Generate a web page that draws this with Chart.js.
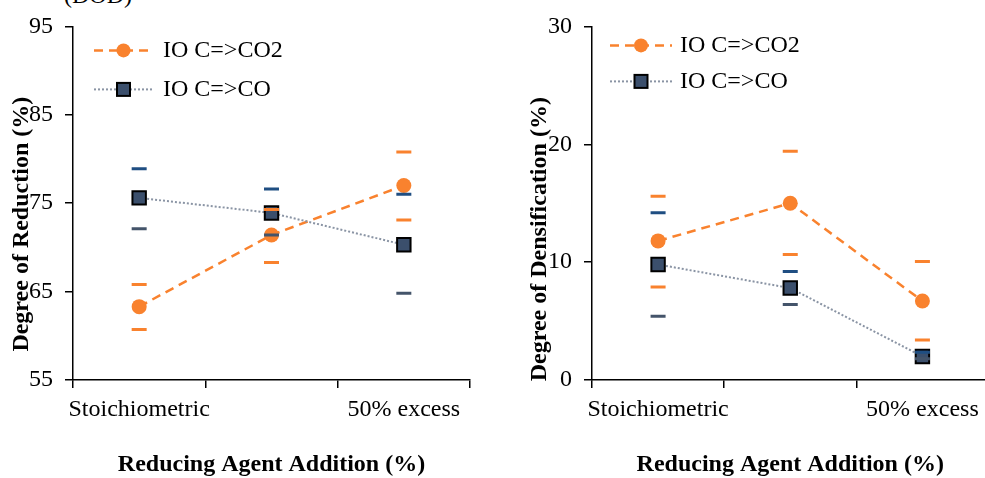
<!DOCTYPE html>
<html>
<head>
<meta charset="utf-8">
<script src="https://cdn.jsdelivr.net/npm/chart.js@4.4.0/dist/chart.umd.min.js"></script>
<style>
    html, body { margin: 0; padding: 0; background: #fff; overflow: hidden; }
    body { width: 985px; height: 478px; position: relative; }
    .panel { position: absolute; top: 0; height: 478px; }
    .panel canvas { display: block; }
    #dod { position: absolute; left: 64px; top: -17px; font: 24px "Liberation Serif", serif; line-height: 24px; color: #000; }
</style>
</head>
<body>
<div id="dod">(DOD)</div>
<div class="panel" style="left:0px; width:492px;"><canvas id="reductionChart" width="492" height="478" style="width:492px;height:478px;"></canvas></div>
<div class="panel" style="left:492px; width:508px;"><canvas id="densificationChart" width="508" height="478" style="width:508px;height:478px;"></canvas></div>

<script>
// Categories (middle label is not shown in the original figure)
const categories = ['Stoichiometric', '', '50% excess'];
const seriesNames = ['IO C=>CO2', 'IO C=>CO'];

// Degree of Reduction (%)
const reductionCO2 = [63.3, 71.4, 77.0];
const reductionCO2Hi = [65.8, 74.3, 80.8];
const reductionCO2Lo = [60.7, 68.3, 73.1];
const reductionCO = [75.6, 73.9, 70.3];
const reductionCOHi = [78.9, 76.6, 76.0];
const reductionCOLo = [72.1, 71.4, 64.8];
const reductionTicks = [55, 65, 75, 85, 95];

// Degree of Densification (%)
const densCO2 = [11.8, 15.0, 6.7];
const densCO2Hi = [15.6, 19.4, 10.05];
const densCO2Lo = [7.9, 10.65, 3.4];
const densCO = [9.8, 7.8, 2.0];
const densCOHi = [14.2, 9.2, 2.35];
const densCOLo = [5.4, 6.4, 1.8];
const densTicks = [0, 10, 20, 30];

const ORANGE = '#F9822E';
const NAVY_FILL = '#3B4F6C';
const CAP_HI = '#1F4E82';
const CAP_LO = '#44546A';
const CO_LINE = '#8A94A4';
const SERIF = '"Liberation Serif", "Times New Roman", serif';

// Legend drawn inside the plot area: dashed/dotted sample line with marker
const insideLegend = {
    id: 'insideLegend',
    afterDraw(chart, args, opts) {
        const ctx = chart.ctx;
        const area = chart.chartArea;
        opts.items.forEach((idx, row) => {
            const ds = chart.data.datasets[idx];
            const x0 = area.left + opts.left;
            const y = area.top + opts.top + row * opts.rowGap;
            const mx = x0 + opts.sample / 2;
            ctx.save();
            ctx.strokeStyle = ds.borderColor;
            ctx.lineWidth = ds.borderWidth;
            ctx.setLineDash(ds.borderDash || []);
            ctx.beginPath();
            ctx.moveTo(x0, y);
            ctx.lineTo(x0 + opts.sample, y);
            ctx.stroke();
            ctx.setLineDash([]);
            ctx.fillStyle = ds.pointBackgroundColor;
            if (ds.pointStyle === 'rect') {
                const s = opts.squareSize;
                ctx.fillRect(mx - s / 2, y - s / 2, s, s);
                ctx.strokeStyle = ds.pointBorderColor;
                ctx.lineWidth = ds.pointBorderWidth;
                ctx.strokeRect(mx - s / 2, y - s / 2, s, s);
            } else {
                ctx.beginPath();
                ctx.arc(mx, y, opts.circleRadius, 0, Math.PI * 2);
                ctx.fill();
            }
            ctx.fillStyle = '#000';
            ctx.font = '24px ' + SERIF;
            ctx.textBaseline = 'middle';
            ctx.textAlign = 'left';
            ctx.fillText(ds.label, x0 + opts.sample + opts.textGap, y);
            ctx.restore();
        });
    }
};

function capDataset(values, color) {
    return {
        type: 'line',
        label: '',
        data: values,
        showLine: false,
        pointStyle: 'line',
        pointRadius: 7.5,
        pointHoverRadius: 7.5,
        pointBorderWidth: 3,
        pointBorderColor: color,
        borderColor: color,
        order: 0
    };
}

function buildDatasets(co2, co2Hi, co2Lo, co, coHi, coLo) {
    return [
        {
            label: seriesNames[0],
            data: co2,
            borderColor: ORANGE,
            borderWidth: 2.5,
            borderDash: [9, 6],
            pointStyle: 'circle',
            pointRadius: 7.5,
            pointBackgroundColor: ORANGE,
            pointBorderColor: ORANGE,
            pointBorderWidth: 0,
            order: 2
        },
        {
            label: seriesNames[1],
            data: co,
            borderColor: CO_LINE,
            borderWidth: 2,
            borderDash: [2, 2],
            pointStyle: 'rect',
            pointRadius: 9.5,
            pointBackgroundColor: NAVY_FILL,
            pointBorderColor: '#000',
            pointBorderWidth: 2,
            order: 1
        },
        capDataset(co2Hi, ORANGE),
        capDataset(co2Lo, ORANGE),
        capDataset(coHi, CAP_HI),
        capDataset(coLo, CAP_LO)
    ];
}

function buildChart(canvasId, cfg) {
    const ctx = document.getElementById(canvasId).getContext('2d');
    return new Chart(ctx, {
        type: 'line',
        data: {
            labels: categories,
            datasets: buildDatasets(cfg.co2, cfg.co2Hi, cfg.co2Lo, cfg.co, cfg.coHi, cfg.coLo)
        },
        options: {
            responsive: false,
            animation: false,
            devicePixelRatio: 1,
            layout: { padding: { top: 24, right: cfg.padRight, left: 0, bottom: 0 } },
            plugins: {
                legend: { display: false },
                tooltip: { enabled: false },
                insideLegend: cfg.legend
            },
            scales: {
                x: {
                    type: 'category',
                    offset: true,
                    grid: { offset: true, drawOnChartArea: false, drawTicks: true, tickLength: 8, color: '#000', lineWidth: 1.5 },
                    border: { display: true, color: '#000', width: 1.5 },
                    ticks: { color: '#000', font: { family: SERIF, size: 24 }, padding: 7, maxRotation: 0, autoSkip: false },
                    title: {
                        display: true,
                        text: 'Reducing Agent Addition (%)',
                        color: '#000',
                        font: { family: SERIF, size: 24, weight: 'bold', lineHeight: 1 },
                        padding: { top: 0, bottom: 1 }
                    },
                    afterFit: scale => { scale.height = 98; }
                },
                y: {
                    min: cfg.ticks[0],
                    max: cfg.ticks[cfg.ticks.length - 1],
                    afterBuildTicks: scale => { scale.ticks = cfg.ticks.map(v => ({ value: v })); },
                    grid: { drawOnChartArea: false, drawTicks: true, tickLength: 8, color: '#000', lineWidth: 1.5 },
                    border: { display: true, color: '#000', width: 1.5 },
                    ticks: { color: '#000', font: { family: SERIF, size: 24 }, padding: 12 },
                    title: {
                        display: true,
                        text: cfg.yTitle,
                        color: '#000',
                        font: { family: SERIF, size: 24, weight: 'bold', lineHeight: 1 },
                        padding: { top: cfg.yTitlePad, bottom: 0 }
                    },
                    afterFit: scale => { scale.width = cfg.yWidth; }
                }
            }
        },
        plugins: [insideLegend]
    });
}

document.addEventListener('DOMContentLoaded', () => {
    buildChart('reductionChart', {
        co2: reductionCO2, co2Hi: reductionCO2Hi, co2Lo: reductionCO2Lo,
        co: reductionCO, coHi: reductionCOHi, coLo: reductionCOLo,
        ticks: reductionTicks,
        // trailing spaces push the rotated title down like the original
        yTitle: 'Degree of Reduction (%)\u00a0\u00a0\u00a0\u00a0\u00a0\u00a0\u00a0',
        yTitlePad: 10,
        yWidth: 73,
        padRight: 22,
        legend: { items: [0, 1], left: 21, top: 24, rowGap: 39, sample: 59, textGap: 10, circleRadius: 7, squareSize: 13 }
    });

    buildChart('densificationChart', {
        co2: densCO2, co2Hi: densCO2Hi, co2Lo: densCO2Lo,
        co: densCO, coHi: densCOHi, coLo: densCOLo,
        ticks: densTicks,
        yTitle: 'Degree of Densification (%)\u00a0\u00a0\u00a0\u00a0\u00a0\u00a0\u00a0\u00a0\u00a0\u00a0\u00a0\u00a0',
        yTitlePad: 36,
        yWidth: 100,
        padRight: 4,
        legend: { items: [0, 1], left: 18, top: 19, rowGap: 36, sample: 62, textGap: 8, circleRadius: 7, squareSize: 13 }
    });
});
</script>
</body>
</html>
